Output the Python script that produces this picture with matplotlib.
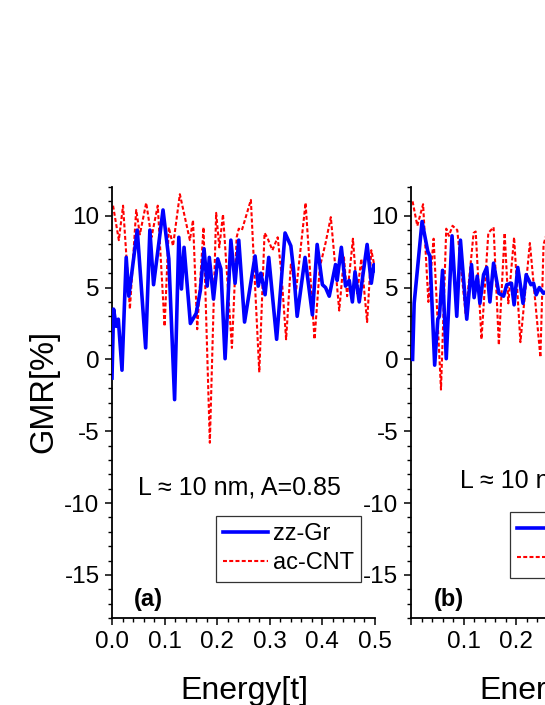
import numpy as np
import matplotlib
matplotlib.use("Agg")
import matplotlib.pyplot as plt
from matplotlib.ticker import MultipleLocator

plt.rcParams['font.family'] = ['Liberation Sans', 'DejaVu Sans']
plt.rcParams['axes.unicode_minus'] = False

# panel (a) data
ea_gr = [0.000, 0.003, 0.008, 0.012, 0.019, 0.027, 0.032, 0.048, 0.064, 0.072,
         0.079, 0.097, 0.108, 0.119, 0.127, 0.132, 0.137, 0.149, 0.160, 0.168,
         0.175, 0.181, 0.185, 0.193, 0.201, 0.207, 0.215, 0.226, 0.234, 0.241,
         0.252, 0.272, 0.278, 0.283, 0.291, 0.298, 0.313, 0.329, 0.340, 0.345,
         0.352, 0.367, 0.381, 0.390, 0.400, 0.406, 0.413, 0.425, 0.428, 0.436,
         0.444, 0.451, 0.457, 0.462, 0.470, 0.476, 0.485, 0.493, 0.498, 0.500]
ga_gr = [-1.3, 3.5, 2.3, 2.8, -0.75, 7.1, 4.4, 9.0, 0.8, 9.0,
         5.2, 10.4, 7.0, -2.8, 8.5, 4.9, 7.8, 2.5, 3.2, 4.8,
         7.7, 5.1, 7.1, 4.2, 7.0, 6.3, 0.05, 8.3, 5.3, 8.3,
         2.6, 7.2, 5.1, 6.0, 4.5, 7.1, 1.4, 8.8, 7.9, 6.3,
         3.0, 7.1, 3.1, 8.0, 5.2, 5.0, 4.4, 6.6, 5.5, 7.8,
         5.1, 5.5, 4.0, 6.1, 4.0, 5.6, 8.0, 5.3, 6.6, 6.2]

ea_cnt = [0.002, 0.013, 0.021, 0.034, 0.046, 0.053, 0.065, 0.075, 0.087, 0.100,
          0.108, 0.116, 0.129, 0.148, 0.154, 0.162, 0.174, 0.186, 0.198, 0.204,
          0.211, 0.228, 0.237, 0.241, 0.247, 0.264, 0.280, 0.290, 0.295, 0.305,
          0.315, 0.322, 0.331, 0.340, 0.350, 0.368, 0.385, 0.395, 0.406, 0.416,
          0.432, 0.441, 0.447, 0.458, 0.466, 0.474, 0.485, 0.493, 0.500]
ga_cnt = [10.7, 8.3, 10.7, 3.5, 10.4, 8.7, 10.9, 8.5, 10.7, 2.3,
          9.2, 7.9, 11.5, 8.3, 9.7, 2.1, 9.2, -5.8, 10.2, 7.8,
          10.1, 0.8, 8.5, 9.1, 9.0, 11.1, -0.9, 8.8, 8.5, 7.6,
          8.5, 6.0, 1.4, 6.6, 4.8, 10.9, 1.4, 6.4, 8.1, 9.9,
          3.4, 7.1, 4.4, 8.4, 4.6, 7.0, 2.6, 7.6, 6.3]

# panel (b) data (only the visible part)
eb_gr = [0.003, 0.006, 0.021, 0.032, 0.036, 0.045, 0.051, 0.054, 0.060, 0.067,
         0.078, 0.087, 0.094, 0.106, 0.115, 0.120, 0.126, 0.131, 0.138, 0.144,
         0.150, 0.157, 0.167, 0.176, 0.182, 0.191, 0.196, 0.203, 0.213, 0.219,
         0.228, 0.233, 0.238, 0.244, 0.252, 0.260]
gb_gr = [0.0, 3.9, 9.6, 7.5, 7.2, -0.4, 2.8, 3.0, 6.2, 0.05,
         8.6, 3.0, 8.3, 2.8, 6.6, 4.3, 5.8, 3.9, 5.9, 6.4,
         4.0, 6.7, 4.6, 4.4, 5.2, 5.3, 3.8, 6.4, 3.9, 5.9,
         5.2, 5.3, 4.5, 5.0, 4.6, 4.8]

eb_cnt = [0.003, 0.012, 0.023, 0.033, 0.043, 0.057, 0.067, 0.072, 0.079, 0.088,
          0.104, 0.119, 0.123, 0.134, 0.147, 0.157, 0.167, 0.178, 0.185, 0.196,
          0.208, 0.226, 0.246, 0.252, 0.260]
gb_cnt = [11.0, 9.3, 10.8, 4.0, 8.4, -2.1, 9.1, 8.6, 9.3, 9.0,
          3.1, 8.8, 8.9, 1.4, 8.8, 9.2, 1.0, 8.8, 3.9, 8.5,
          1.2, 8.1, 0.15, 8.0, 9.0]

W, H = 545, 705
fig = plt.figure(figsize=(W / 100, H / 100), dpi=100)

ax_w = 263 / W
ax_h = 431 / H
ax_b = (H - 618) / H
axa = fig.add_axes([112 / W, ax_b, ax_w, ax_h])
axb = fig.add_axes([411 / W, ax_b, ax_w, ax_h])

# axis, text x/y, tag x, legend anchor (axes fractions)
panels = [
    (axa, ea_gr, ga_gr, ea_cnt, ga_cnt, "(a)", 0.099, 0.302, 0.084, 0.395, 0.236),
    (axb, eb_gr, gb_gr, eb_cnt, gb_cnt, "(b)", 0.186, 0.318, 0.087, 0.376, 0.245),
]

for ax, e1, g1, e2, g2, tag, tx, ty, gx, lx, ly in panels:
    ax.plot(e1, g1, color='#0000ff', lw=2.6, label='zz-Gr', zorder=3)
    ax.plot(e2, g2, color='#ff0000', lw=1.5, ls=(0, (1.9, 1.1)),
            label='ac-CNT', zorder=2)
    ax.set_xlim(0, 0.5)
    ax.set_ylim(-18, 12)
    for s in ['top', 'right']:
        ax.spines[s].set_visible(False)
    for s in ['left', 'bottom']:
        ax.spines[s].set_linewidth(1.3)
    ax.yaxis.set_major_locator(MultipleLocator(5))
    ax.yaxis.set_minor_locator(MultipleLocator(1))
    ax.xaxis.set_minor_locator(MultipleLocator(0.02))
    ax.tick_params(which='major', direction='out', length=5, width=1.1,
                   labelsize=17.5, pad=4)
    ax.tick_params(which='minor', direction='out', length=2.8, width=1.0)
    ax.text(tx, ty, "L \u2248 10 nm, A=0.85", transform=ax.transAxes,
            fontsize=18, ha='left', va='center')
    ax.text(gx, 0.043, tag, transform=ax.transAxes, fontsize=17,
            fontweight='bold', ha='left', va='center')
    leg = ax.legend(loc='upper left', bbox_to_anchor=(lx, ly), fontsize=17,
                    frameon=True, fancybox=False, handlelength=1.9,
                    handletextpad=0.2, borderpad=0.3, labelspacing=0.3,
                    borderaxespad=0)
    leg.get_frame().set_edgecolor('black')
    leg.get_frame().set_linewidth(0.9)

axa.set_xticks([0.0, 0.1, 0.2, 0.3, 0.4, 0.5])
axa.set_xticklabels(["0.0", "0.1", "0.2", "0.3", "0.4", "0.5"])
axb.set_xticks([0.0, 0.1, 0.2, 0.3, 0.4, 0.5])
axb.set_xticklabels(["", "0.1", "0.2", "0.3", "0.4", "0.5"])

# axis titles placed in figure pixels, descenders touch the bottom edge
fig.text(244 / W, 6 / H, "Energy[t]", fontsize=23, ha='center', va='baseline')
fig.text(543 / W, 6 / H, "Energy[t]", fontsize=23, ha='center', va='baseline')
fig.text(44 / W, 1 - 391.5 / H, "GMR[%]", rotation=90, fontsize=23.5,
         ha='center', va='center')

fig.savefig("out.png", dpi=100)
